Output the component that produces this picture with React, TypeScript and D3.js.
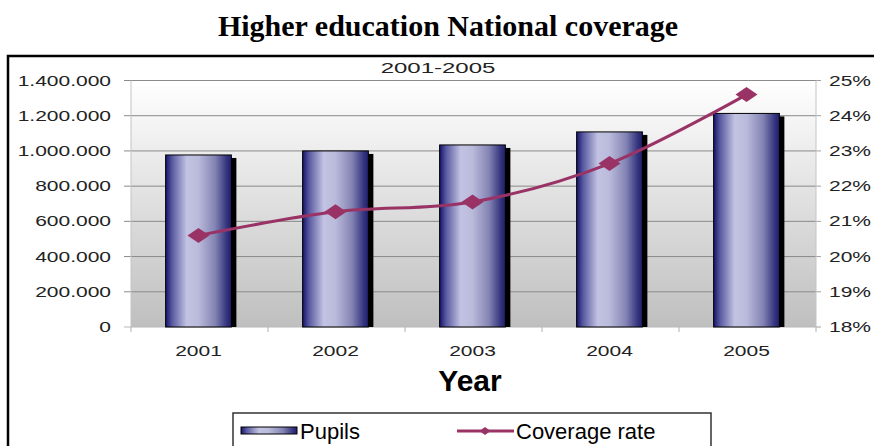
import React from 'react';
import * as d3 from 'd3';

const years = ['2001', '2002', '2003', '2004', '2005'];
const pupils = [977000, 1000000, 1034000, 1108000, 1213000];
const coverage = [20.6, 21.27, 21.55, 22.64, 24.6];
const leftTicks = [0, 200000, 400000, 600000, 800000, 1000000, 1200000, 1400000];
const rightTicks = [18, 19, 20, 21, 22, 23, 24, 25];
const titleText = 'Higher education National coverage';
const subtitleText = '2001-2005';
const xTitle = 'Year';
const seriesNames = ['Pupils', 'Coverage rate'];

const SANS = "'Liberation Sans', Arial, sans-serif";
const SERIF = "'Liberation Serif', 'Times New Roman', serif";
const SX = 1.5;

export default function App() {
  const left = 131, right = 816, top = 80.5, bottom = 327;
  const x = d3.scaleBand<string>().domain(years).range([left, right]).paddingInner(0.52).paddingOuter(0.26);
  const yL = d3.scaleLinear().domain([0, 1400000]).range([bottom, top]);
  const yR = d3.scaleLinear().domain([18, 25]).range([bottom, top]);
  const loc = d3.formatLocale({ thousands: '.', grouping: [3], decimal: ',', currency: ['', ''] });
  const fmt = loc.format(',');
  const step = x.step();
  const cx = (y: string) => (x(y) as number) + x.bandwidth() / 2 - 1;
  const line = d3.line<number>()
    .x((_, i) => cx(years[i]))
    .y((d) => yR(d))
    .curve(d3.curveCardinal.tension(0));
  const diamond = (px: number, py: number, w: number, h: number) =>
    `M${px - w / 2},${py} L${px},${py - h / 2} L${px + w / 2},${py} L${px},${py + h / 2} Z`;
  const color = '#993366';

  return (
    <svg width={874} height={446} style={{ position: 'absolute', left: 0, top: 0, background: '#fff' }}>
      <defs>
        <linearGradient id="plotBg" x1="0" y1="0" x2="0" y2="1">
          <stop offset="0%" stopColor="#ffffff" />
          <stop offset="100%" stopColor="#bfbfbf" />
        </linearGradient>
        <linearGradient id="barGrad" x1="0" y1="0" x2="1" y2="0">
          <stop offset="0%" stopColor="#14146a" />
          <stop offset="10%" stopColor="#5a5aa2" />
          <stop offset="32%" stopColor="#c2c2e2" />
          <stop offset="50%" stopColor="#babadb" />
          <stop offset="75%" stopColor="#8484b4" />
          <stop offset="93%" stopColor="#34347e" />
          <stop offset="100%" stopColor="#1e1e6c" />
        </linearGradient>
      </defs>
      <rect x={0} y={0} width={874} height={446} fill="#fff" />
      <text x={448} y={36} textAnchor="middle" fontFamily={SERIF} fontWeight="bold" fontSize={30} fill="#000">
        {titleText}
      </text>
      <rect x={8} y={56} width={900} height={420} fill="#fff" stroke="#000" strokeWidth={2.5} />
      <text transform={`translate(438,73) scale(1.6,1)`} textAnchor="middle" fontFamily={SANS} fontSize={15} fill="#222">
        {subtitleText}
      </text>
      {/* plot area */}
      <rect x={left} y={top} width={right - left} height={bottom - top} fill="url(#plotBg)" />
      {leftTicks.map((t) => (
        <g key={'g' + t}>
          <line x1={left - 7} x2={right} y1={yL(t)} y2={yL(t)} stroke={t === 0 ? '#b8b8b8' : '#8a8a8a'} strokeWidth={1} />
          <text transform={`translate(111,${yL(t) + 5}) scale(${SX},1)`} textAnchor="end" fontFamily={SANS} fontSize={14} fill="#222">
            {fmt(t)}
          </text>
        </g>
      ))}
      {rightTicks.map((t) => (
        <g key={'r' + t}>
          <line x1={right} x2={right + 5} y1={yR(t)} y2={yR(t)} stroke="#a0a0a0" strokeWidth={1} />
          <text transform={`translate(829,${yR(t) + 5}) scale(${SX},1)`} textAnchor="start" fontFamily={SANS} fontSize={14} fill="#222">
            {t + '%'}
          </text>
        </g>
      ))}
      <line x1={left} x2={left} y1={top} y2={bottom} stroke="#c4c4c4" strokeWidth={1} />
      <line x1={right} x2={right} y1={top} y2={bottom} stroke="#c4c4c4" strokeWidth={1} />
      {d3.range(years.length + 1).map((i) => (
        <line key={'bt' + i} x1={left + i * step} x2={left + i * step} y1={bottom} y2={bottom + 5} stroke="#b0b0b0" strokeWidth={1} />
      ))}
      {/* bars */}
      {years.map((yr, i) => {
        const bx = (x(yr) as number) - 1;
        const by = yL(pupils[i]);
        const bw = x.bandwidth();
        return (
          <g key={'b' + yr}>
            <rect x={bx + 5} y={by + 3} width={bw} height={bottom - by - 3} fill="#000" />
            <rect x={bx} y={by} width={bw} height={bottom - by} fill="url(#barGrad)" stroke="#000" strokeWidth={1} />
          </g>
        );
      })}
      {/* line */}
      <path d={line(coverage) || ''} fill="none" stroke={color} strokeWidth={3} />
      {coverage.map((c, i) => (
        <path key={'m' + i} d={diamond(cx(years[i]), yR(c), 22, 15)} fill={color} />
      ))}
      {/* category labels */}
      {years.map((yr) => (
        <text key={'c' + yr} transform={`translate(${cx(yr)},356) scale(${SX},1)`} textAnchor="middle" fontFamily={SANS} fontSize={14} fill="#222">
          {yr}
        </text>
      ))}
      <text x={470} y={391} textAnchor="middle" fontFamily={SANS} fontWeight="bold" fontSize={30} fill="#000">
        {xTitle}
      </text>
      {/* legend */}
      <rect x={233} y={413} width={478} height={60} fill="#fff" stroke="#333" strokeWidth={1.5} />
      <rect x={241} y={427} width={56} height={7} fill="url(#barGrad)" stroke="#000" strokeWidth={1} />
      <text x={300} y={439} fontFamily={SANS} fontSize={22} fill="#000">{seriesNames[0]}</text>
      <line x1={457} x2={514} y1={431} y2={431} stroke={color} strokeWidth={3} />
      <path d={diamond(485, 431, 11, 8)} fill={color} />
      <text x={516} y={439} fontFamily={SANS} fontSize={22} fill="#000">{seriesNames[1]}</text>
    </svg>
  );
}
